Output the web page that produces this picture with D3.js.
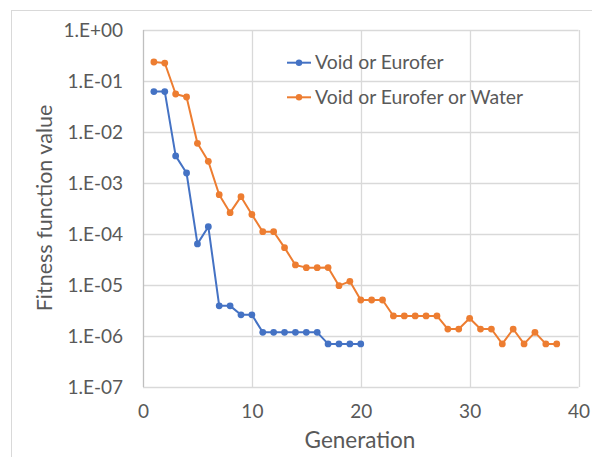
<!DOCTYPE html>
<html>
<head>
<meta charset="utf-8">
<script src="https://cdn.jsdelivr.net/npm/d3@7"></script>
<style>
html,body{margin:0;padding:0;background:#fff;}
svg{display:block;}
text{font-family:Lato,"Open Sans",sans-serif;fill:#595959;}
</style>
</head>
<body>
<script>
const generations1 = [1,2,3,4,5,6,7,8,9,10,11,12,13,14,15,16,17,18,19,20];
const voidEurofer = [0.062,0.062,3.4e-3,1.57e-3,6.4e-5,1.39e-4,3.9e-6,3.9e-6,2.6e-6,2.6e-6,1.18e-6,1.18e-6,1.18e-6,1.18e-6,1.18e-6,1.18e-6,7e-7,7e-7,7e-7,7e-7];
const generations2 = [1,2,3,4,5,6,7,8,9,10,11,12,13,14,15,16,17,18,19,20,21,22,23,24,25,26,27,28,29,30,31,32,33,34,35,36,37,38];
const voidEuroferWater = [0.236,0.225,0.0556,0.0486,6.0e-3,2.66e-3,5.9e-4,2.62e-4,5.4e-4,2.41e-4,1.11e-4,1.11e-4,5.4e-5,2.47e-5,2.19e-5,2.19e-5,2.2e-5,9.7e-6,1.18e-5,5.08e-6,5.08e-6,5.08e-6,2.47e-6,2.47e-6,2.47e-6,2.47e-6,2.47e-6,1.37e-6,1.37e-6,2.22e-6,1.37e-6,1.37e-6,7e-7,1.37e-6,7e-7,1.18e-6,7e-7,7e-7];
const seriesNames = ["Void or Eurofer","Void or Eurofer or Water"];
const xTicks = [0,10,20,30,40];
const yTicks = [1,1e-1,1e-2,1e-3,1e-4,1e-5,1e-6,1e-7];
const yTickLabels = ["1.E+00","1.E-01","1.E-02","1.E-03","1.E-04","1.E-05","1.E-06","1.E-07"];
const xTitle = "Generation";
const yTitle = "Fitness function value";

const W = 592, H = 457;
const colors = ["#4472C4","#ED7D31"];
const svg = d3.select("body").append("svg").attr("width",W).attr("height",H);

// outer chart border (cut off at right/bottom)
svg.append("rect").attr("x",11.5).attr("y",10.5).attr("width",640).attr("height",500)
  .attr("fill","none").attr("stroke","#d9d9d9").attr("stroke-width",1);

const x = d3.scaleLinear().domain([0,40]).range([143,578.5]);
const y = d3.scaleLog().domain([1e-7,1]).range([387,30]);

const grid = svg.append("g");
grid.selectAll("line.h").data(yTicks).enter().append("line")
  .attr("x1",x(0)).attr("x2",x(40)).attr("y1",d=>Math.round(y(d))+0.5).attr("y2",d=>Math.round(y(d))+0.5)
  .attr("stroke","#d9d9d9").attr("stroke-width",1.3);
grid.selectAll("line.v").data(xTicks.slice(1)).enter().append("line")
  .attr("y1",y(1)).attr("y2",y(1e-7)).attr("x1",d=>Math.round(x(d))+0.5).attr("x2",d=>Math.round(x(d))+0.5)
  .attr("stroke","#d9d9d9").attr("stroke-width",1.3);
svg.append("line").attr("x1",Math.round(x(0))+0.5).attr("x2",Math.round(x(0))+0.5)
  .attr("y1",y(1)).attr("y2",y(1e-7)).attr("stroke","#bfbfbf").attr("stroke-width",1.3);

// axes via d3 axis generators (domain/ticks hidden, labels kept)
const xAxis = d3.axisBottom(x).tickValues(xTicks).tickSize(0).tickPadding(18).tickFormat(d3.format("d"));
const gx = svg.append("g").attr("transform",`translate(0,${y(1e-7)})`).call(xAxis);
gx.select(".domain").remove();
gx.selectAll("text").attr("font-size","19px").attr("fill","#595959").style("font-family","Lato");

const yAxis = d3.axisLeft(y).tickValues(yTicks).tickSize(0).tickPadding(20)
  .tickFormat((d,i)=>yTickLabels[yTicks.indexOf(d)]);
const gy = svg.append("g").attr("transform",`translate(${x(0)},0)`).call(yAxis);
gy.select(".domain").remove();
gy.selectAll("text").attr("font-size","19px").attr("fill","#595959").style("font-family","Lato");

// titles
svg.append("text").attr("x",360).attr("y",448).attr("text-anchor","middle")
  .attr("font-size","22.5px").text(xTitle);
svg.append("text").attr("transform","translate(52,208) rotate(-90)").attr("text-anchor","middle")
  .attr("font-size","21.5px").text(yTitle);

// series
const line = d3.line().x(d=>x(d[0])).y(d=>y(d[1]));
const data = [
  d3.zip(generations1, voidEurofer),
  d3.zip(generations2, voidEuroferWater)
];
data.forEach((pts,i)=>{
  svg.append("path").datum(pts).attr("d",line).attr("fill","none")
    .attr("stroke",colors[i]).attr("stroke-width",2).attr("stroke-linejoin","round");
  svg.append("g").selectAll("circle").data(pts).enter().append("circle")
    .attr("cx",d=>x(d[0])).attr("cy",d=>y(d[1])).attr("r",3.4).attr("fill",colors[i]);
});

// legend
const legY = [62.7, 97.3];
seriesNames.forEach((name,i)=>{
  const g = svg.append("g");
  g.append("line").attr("x1",287).attr("x2",311).attr("y1",legY[i]).attr("y2",legY[i])
    .attr("stroke",colors[i]).attr("stroke-width",2);
  g.append("circle").attr("cx",299).attr("cy",legY[i]).attr("r",3.2).attr("fill",colors[i]);
  g.append("text").attr("x",315).attr("y",legY[i]).attr("dy","0.35em")
    .attr("font-size","19.4px").text(name);
});
</script>
</body>
</html>
